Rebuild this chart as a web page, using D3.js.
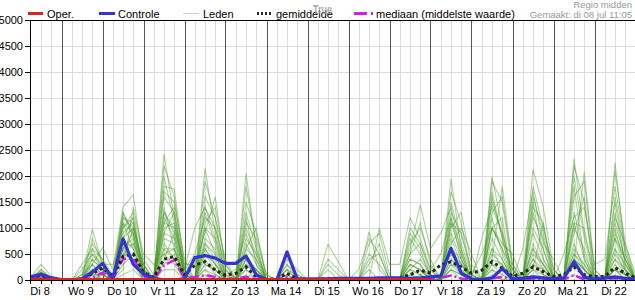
<!DOCTYPE html>
<html>
<head>
<meta charset="utf-8">
<script src="https://cdn.jsdelivr.net/npm/d3@7"></script>
<style>
  body { margin: 0; background: #fff; }
  svg { display: block; font-family: "Liberation Sans", Arial, sans-serif; }
</style>
</head>
<body>
<svg id="chart" width="635" height="300"></svg>
<script>
// labels and values (6-hourly, from di 8 06:00)
const dayLabels = ["Di 8", "Wo 9", "Do 10", "Vr 11", "Za 12", "Zo 13", "Ma 14", "Di 15",
  "Wo 16", "Do 17", "Vr 18", "Za 19", "Zo 20", "Ma 21", "Di 22"];
const yTicks = [0, 500, 1000, 1500, 2000, 2500, 3000, 3500, 4000, 4500, 5000];
const legendLabels = ["Oper.", "Controle", "Leden", "gemiddelde", "mediaan (middelste waarde)"];

const oper = [0, 0, 0, 0, 0, 0, 0, 0, 0, 0, 0, 0, 0, 0, 0, 0, 0, 0, 0, 0,
  0, 0, 0, 0, 0, 0, 0, 0, 0, 0, 0, 0, 0, 0, 0, 0, 0, 0, 0, 0];

const controle = [60, 110, 40, 10, 0, 20, 150, 320, 20, 790, 300, 120, 30, 5, 5, 20,
  430, 470, 420, 320, 320, 460, 100, 0, 0, 540, 20, 20, 20, 20, 30, 30, 30, 30, 40, 40,
  40, 30, 40, 60, 80, 610, 130, 20, 10, 40, 220, 20, 30, 60, 40, 20, 40, 350, 50, 20,
  40, 60, 30, 20];

const gemiddelde = [50, 90, 40, 10, 0, 20, 120, 230, 80, 450, 500, 150, 50, 400, 450, 100,
  280, 350, 190, 90, 130, 250, 60, 10, 20, 130, 20, 10, 10, 30, 20, 10, 20, 30, 30, 20,
  40, 100, 190, 130, 290, 350, 250, 130, 190, 350, 230, 65, 130, 250, 160, 65, 100, 250,
  100, 65, 70, 240, 130, 40];

const mediaan = [30, 50, 20, 0, 0, 0, 40, 140, 20, 400, 420, 80, 10, 280, 380, 40,
  60, 90, 60, 20, 30, 60, 10, 0, 0, 60, 0, 0, 0, 0, 0, 0, 0, 0, 0, 0,
  0, 0, 20, 10, 40, 85, 30, 0, 10, 30, 60, 0, 10, 30, 20, 0, 10, 95, 10, 0,
  10, 40, 10, 0];

const leden = [
  [0,120,30,0, 0,0,200,100, 0,600,900,100, 0,1200,800,50, 0,300,200,0, 0,100,50,0, 0,0,0,0, 0,0,0,0, 0,0,0,0, 0,200,400,100, 0,800,300,0, 0,600,200,0, 0,400,100,0, 0,300,100,0, 0,200,0,0],
  [50,300,80,0, 0,50,980,300, 0,1100,600,50, 0,2420,1200,100, 0,600,300,0, 0,300,100,0, 0,50,0,0, 0,0,0,0, 0,0,0,0, 0,100,50,0, 0,200,100,0, 0,1200,500,0, 0,2130,1400,200, 0,400,200,0, 0,800,200,0],
  [0,80,0,0, 0,0,300,620, 200,1400,1640,300, 0,500,600,0, 0,2150,900,100, 0,400,100,0, 0,200,0,0, 0,0,0,0, 0,0,0,0, 0,500,1100,300, 0,1950,600,0, 0,300,100,0, 0,100,0,0, 0,1100,400,0, 0,2260,500,0],
  [0,100,0,0, 0,200,500,200, 100,800,1200,200, 0,1800,1750,300, 300,900,1600,200, 0,2050,600,0, 0,300,100,0, 0,0,0,0, 0,930,200,0, 0,300,200,0, 0,500,300,100, 0,1990,1000,0, 0,600,300,0, 0,2330,900,100, 0,1000,200,0],
  [0,50,0,0, 0,0,100,100, 0,1000,1300,400, 100,1300,900,100, 0,500,300,100, 200,900,400,0, 0,0,0,0, 0,690,350,0, 0,0,0,0, 0,0,100,200, 500,1200,400,0, 0,400,1800,300, 0,600,200,0, 0,300,2080,200, 0,400,100,0],
  [50,150,50,0, 0,0,0,0, 0,300,500,100, 0,900,1300,200, 500,1200,1000,300, 0,500,200,0, 0,100,0,0, 0,0,0,0, 0,0,1000,300, 300,1200,800,200, 0,400,100,0, 0,1500,900,200, 0,200,100,0, 0,1800,400,0, 0,600,100,0],
  [0,0,0,0, 0,300,600,400, 100,1300,800,100, 0,600,400,0, 0,300,200,0, 0,1500,900,100, 0,0,0,0, 0,400,200,0, 200,800,500,0, 0,800,500,100, 0,1000,1300,300, 0,200,100,0, 0,1300,600,0, 0,500,200,0, 0,1500,300,0],
  [0,200,50,0, 0,0,400,200, 0,600,700,200, 0,2000,1100,100, 0,1000,500,0, 0,200,100,0, 0,400,200,0, 0,0,0,0, 0,0,0,0, 0,0,0,0, 0,1500,700,100, 500,1000,600,200, 0,900,400,100, 0,600,300,0, 0,300,100,0],
  [0,60,0,0, 0,0,200,0, 0,1200,1000,300, 0,400,900,100, 0,1600,1200,400, 0,800,500,0, 0,0,0,0, 0,0,0,0, 0,300,700,0, 0,600,1450,600, 900,1400,500,0, 0,800,400,0, 600,1700,700,400, 0,400,200,0, 0,1200,700,100],
  [0,100,0,0, 0,100,300,100, 0,900,1100,100, 0,1400,600,0, 0,700,400,0, 0,1200,300,0, 0,0,0,0, 0,0,0,0, 0,500,300,0, 0,200,100,0, 0,600,300,0, 800,1400,900,100, 0,1000,600,0, 500,1200,1400,300, 400,1800,600,0],
  [0,30,0,0, 0,0,0,0, 0,500,400,0, 0,1100,1000,300, 0,400,100,0, 0,600,1000,0, 0,0,0,0, 0,300,100,0, 0,0,0,0, 0,400,300,0, 0,700,1000,500, 0,1000,700,500, 0,1500,400,0, 0,900,1600,0, 0,600,300,0],
  [0,100,0,0, 0,0,800,300, 300,700,400,0, 0,1700,1500,400, 0,800,600,0, 0,400,200,0, 0,100,0,0, 0,0,0,0, 0,0,0,0, 0,900,600,0, 0,1100,500,0, 0,1000,1200,0, 0,500,300,0, 0,2000,800,0, 0,800,400,0],
  [0,0,0,0, 0,0,100,0, 0,1100,900,200, 0,800,700,0, 0,1300,700,0, 0,1100,800,100, 0,200,100,0, 0,0,0,0, 0,0,0,0, 0,0,0,0, 0,600,400,0, 0,1600,800,0, 0,1800,1000,200, 0,700,200,0, 0,200,100,0],
  [0,150,0,0, 0,0,600,200, 0,400,1000,200, 0,1000,1100,200, 1000,1400,800,0, 0,300,100,0, 0,0,0,0, 0,0,0,0, 0,700,900,100, 0,300,200,0, 0,1300,900,200, 0,200,0,0, 0,300,100,0, 0,1300,500,0, 0,2100,700,0],
  [0,80,0,0, 0,0,0,100, 0,200,1400,500, 300,500,300,0, 0,200,100,0, 0,700,300,0, 0,0,0,0, 0,200,0,0, 0,0,0,0, 0,1000,700,100, 0,300,200,0, 0,500,300,0, 0,200,1100,100, 0,400,100,0, 0,400,200,0],
  [0,100,0,0, 0,0,300,100, 0,1300,900,100, 0,2200,1600,200, 0,1900,1200,0, 0,1800,700,0, 0,0,0,0, 0,0,0,0, 0,0,0,0, 0,300,200,0, 0,900,400,0, 0,1000,600,0, 0,700,300,0, 0,1000,600,0, 0,1300,300,0],
  [0,40,0,0, 0,0,200,200, 0,800,600,100, 0,300,500,0, 0,600,300,0, 0,0,0,0, 0,200,0,0, 0,0,0,0, 0,200,0,0, 0,200,100,0, 0,200,100,0, 0,600,400,0, 0,300,200,0, 0,400,200,0, 0,500,200,0],
  [0,150,50,0, 0,0,500,300, 0,1000,1200,100, 0,1600,1300,100, 0,1100,1400,300, 0,600,400,0, 0,0,0,0, 0,0,0,0, 0,0,0,0, 0,700,1000,400, 0,1100,900,100, 0,1300,1600,300, 0,1400,1100,0, 0,1600,1900,200, 0,900,400,0],
  [0,0,0,0, 0,0,0,0, 0,600,800,100, 0,700,400,0, 0,200,0,0, 0,300,200,0, 0,0,0,0, 0,0,0,0, 0,0,0,0, 0,0,0,0, 0,200,0,0, 0,100,0,0, 0,0,0,0, 0,100,0,0, 0,0,0,0],
  [0,100,0,0, 0,100,700,400, 0,1200,1100,200, 0,1100,1400,200, 0,1000,800,100, 0,1000,500,0, 0,100,0,0, 0,0,0,0, 0,400,500,0, 0,500,700,200, 0,1700,1100,100, 0,1900,1500,200, 0,1200,800,0, 0,2200,1500,0, 0,1600,500,0],
  [0,60,0,0, 0,0,0,0, 0,100,200,0, 0,200,200,0, 0,100,0,0, 0,0,0,0, 0,0,0,0, 0,0,0,0, 0,0,0,0, 0,0,0,0, 0,0,0,0, 0,0,0,0, 0,0,0,0, 0,0,0,0, 0,0,0,0],
  [0,50,0,0, 0,0,150,0, 0,600,300,0, 0,900,800,0, 0,500,200,0, 0,200,0,0, 0,0,0,0, 0,0,0,0, 0,0,0,0, 0,100,0,0, 0,300,100,0, 0,400,300,0, 0,200,0,0, 0,300,100,0, 0,200,0,0],
  [0,200,0,0, 0,0,400,200, 0,800,1000,300, 0,1300,1000,100, 0,1400,1000,200, 0,1300,600,0, 0,300,0,0, 0,0,0,0, 0,0,0,0, 0,400,300,0, 0,1200,600,0, 0,1700,800,0, 0,1600,900,0, 0,1100,1000,0, 0,1100,400,0],
  [0,80,0,0, 0,0,100,100, 0,500,700,100, 0,600,600,100, 0,700,500,0, 0,400,200,0, 0,0,0,0, 0,0,0,0, 0,0,0,0, 0,0,0,0, 0,400,200,0, 0,300,200,0, 0,400,200,0, 0,500,300,0, 0,200,100,0]
];

const width = 635, height = 300,
  plotLeft = 30, plotTop = 20, plotBottom = 280, plotRight = 635;

const t0 = new Date(2025, 6, 8, 0, 0),
  t1 = new Date(2025, 6, 23, 0, 0);
const timeAt = (i) => d3.timeHour.offset(t0, 6 + 6 * i);

const x = d3.scaleTime().domain([t0, t1]).range([20.5, 635.5]);
const y = d3.scaleLinear().domain([0, 5000]).range([plotBottom, plotTop]);

const svg = d3.select("#chart");

svg.append("defs").append("clipPath").attr("id", "plot")
  .append("rect")
  .attr("x", plotLeft).attr("y", plotTop - 2)
  .attr("width", plotRight - plotLeft).attr("height", plotBottom - plotTop + 2);

// grid
const grid = svg.append("g").attr("shape-rendering", "crispEdges");
grid.selectAll("line.h")
  .data(yTicks.filter((d) => d > 0 && d < 5000))
  .enter().append("line")
  .attr("x1", plotLeft).attr("x2", plotRight)
  .attr("y1", (d) => Math.round(y(d)) + 0.5).attr("y2", (d) => Math.round(y(d)) + 0.5)
  .attr("stroke", "#dcdcdc");

const sixHours = d3.timeHour.every(6).range(t0, t1).filter((d) => x(d) > plotLeft + 1);
grid.selectAll("line.v")
  .data(sixHours)
  .enter().append("line")
  .attr("x1", (d) => Math.round(x(d)) + 0.5).attr("x2", (d) => Math.round(x(d)) + 0.5)
  .attr("y1", plotTop).attr("y2", plotBottom)
  .attr("stroke", (d) => (d.getHours() === 0 ? "#555" : "#dcdcdc"));

// data lines
const line = d3.line()
  .x((d, i) => x(timeAt(i)))
  .y((d) => y(d));

const data = svg.append("g").attr("clip-path", "url(#plot)").attr("fill", "none");

data.append("g")
  .attr("stroke", "#479a24")
  .attr("stroke-opacity", 0.45)
  .attr("stroke-width", 1.1)
  .selectAll("path")
  .data(leden)
  .enter().append("path")
  .attr("d", line);

data.append("path").datum(mediaan)
  .attr("d", line)
  .attr("stroke", "#d11fe6").attr("stroke-width", 2.5)
  .attr("stroke-dasharray", "9,3,2,3");

data.append("path").datum(gemiddelde)
  .attr("d", line)
  .attr("stroke", "#222").attr("stroke-width", 3)
  .attr("stroke-dasharray", "3,3");

data.append("path").datum(controle)
  .attr("d", line)
  .attr("stroke", "#3434d2").attr("stroke-width", 3.2)
  .attr("stroke-linejoin", "round");

data.append("path").datum(oper)
  .attr("d", line)
  .attr("transform", "translate(0,-1)")
  .attr("stroke", "#d42424").attr("stroke-width", 2);

// axes frame
const frame = svg.append("g").attr("stroke", "#000").attr("shape-rendering", "crispEdges");
frame.append("line").attr("x1", plotLeft).attr("x2", plotRight).attr("y1", plotTop + 0.5).attr("y2", plotTop + 0.5);
frame.append("line").attr("x1", plotLeft + 0.5).attr("x2", plotLeft + 0.5).attr("y1", plotTop).attr("y2", plotBottom + 4);
frame.append("line").attr("x1", plotLeft).attr("x2", plotRight).attr("y1", plotBottom + 0.5).attr("y2", plotBottom + 0.5);

frame.selectAll("line.xt")
  .data(sixHours)
  .enter().append("line")
  .attr("x1", (d) => Math.round(x(d)) + 0.5).attr("x2", (d) => Math.round(x(d)) + 0.5)
  .attr("y1", plotBottom).attr("y2", plotBottom + 4);

frame.selectAll("line.yt")
  .data(yTicks)
  .enter().append("line")
  .attr("x1", plotLeft - 5).attr("x2", plotLeft)
  .attr("y1", (d) => Math.round(y(d)) + 0.5).attr("y2", (d) => Math.round(y(d)) + 0.5);

// y labels
svg.append("g")
  .attr("font-size", 11).attr("text-anchor", "end").attr("fill", "#000")
  .selectAll("text")
  .data(yTicks)
  .enter().append("text")
  .attr("x", plotLeft - 7)
  .attr("y", (d) => y(d) + 4)
  .text((d) => d);

// day labels at noon
svg.append("g")
  .attr("font-size", 11).attr("text-anchor", "middle").attr("fill", "#000")
  .selectAll("text")
  .data(dayLabels)
  .enter().append("text")
  .attr("x", (d, i) => x(d3.timeHour.offset(d3.timeDay.offset(t0, i), 12)) - 1)
  .attr("y", 295)
  .text((d) => d);

// legend
const legendX = [28, 99, 183, 257, 354];
const legendTextX = [47, 118, 203, 276, 376];
const legendStyle = [
  { stroke: "#d42424", width: 3, dash: null, len: 15 },
  { stroke: "#3434d2", width: 3, dash: null, len: 16 },
  { stroke: "#bcdcae", width: 1, dash: null, len: 16 },
  { stroke: "#222", width: 3, dash: "2,2", len: 15 },
  { stroke: "#d11fe6", width: 3, dash: "13,4,2,10", len: 19 }
];
const legend = svg.append("g");
legend.selectAll("line")
  .data(legendLabels)
  .enter().append("line")
  .attr("x1", (d, i) => legendX[i])
  .attr("x2", (d, i) => legendX[i] + legendStyle[i].len)
  .attr("y1", 13.5).attr("y2", 13.5)
  .attr("stroke", (d, i) => legendStyle[i].stroke)
  .attr("stroke-width", (d, i) => legendStyle[i].width)
  .attr("stroke-dasharray", (d, i) => legendStyle[i].dash);
legend.selectAll("text")
  .data(legendLabels)
  .enter().append("text")
  .attr("x", (d, i) => legendTextX[i])
  .attr("y", 18)
  .attr("font-size", 11)
  .text((d) => d);

// title behind the legend, as in the source
svg.append("text")
  .attr("x", 313).attr("y", 14)
  .attr("font-size", 13.5).attr("font-weight", "bold")
  .attr("textLength", 19).attr("lengthAdjust", "spacingAndGlyphs")
  .attr("fill", "#999").attr("fill-opacity", 0.85)
  .text("True");

// top right notes
svg.append("text")
  .attr("x", 632).attr("y", 8).attr("text-anchor", "end")
  .attr("font-size", 9.5).attr("fill", "#999")
  .text("Regio midden");
svg.append("text")
  .attr("x", 632).attr("y", 18).attr("text-anchor", "end")
  .attr("font-size", 9.5).attr("fill", "#999")
  .text("Gemaakt: di 08 jul 11:05");
</script>
</body>
</html>
